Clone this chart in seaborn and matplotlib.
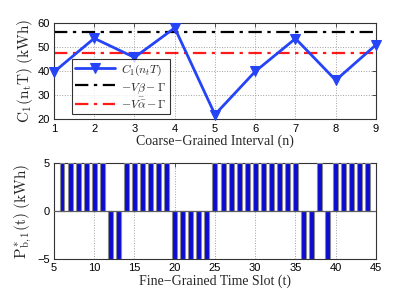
import matplotlib
matplotlib.use("Agg")
import matplotlib.pyplot as plt
import seaborn as sns
import numpy as np
import pandas as pd

# ---- data ----
intervals = [1, 2, 3, 4, 5, 6, 7, 8, 9]
c1_values = [39.6, 53.5, 45.6, 57.8, 22.0, 39.8, 53.4, 36.2, 50.8]
beta_level = 56.3
alpha_level = 47.3

slots = list(range(6, 45))
pb_values = ([5] * 6 + [-5] * 2 + [5] * 6 + [-5] * 5 + [5] * 11 +
             [-5] * 2 + [5] + [-5] + [5] * 5)

top_xticks = [1, 2, 3, 4, 5, 6, 7, 8, 9]
top_yticks = [20, 30, 40, 50, 60]
bot_xticks = [5, 10, 15, 20, 25, 30, 35, 40, 45]
bot_yticks = [-5, 0, 5]

sns.set_style("white")
plt.rcParams['font.family'] = ['Liberation Sans', 'DejaVu Sans']
plt.rcParams['mathtext.fontset'] = 'cm'

fig = plt.figure(figsize=(4.15, 2.97), dpi=100)
ax1 = fig.add_axes([0.130, 0.598, 0.776, 0.326])
ax2 = fig.add_axes([0.130, 0.128, 0.776, 0.323])

blue_line = '#2644f7'
bar_blue = '#0b0bd2'
serif = ['Liberation Serif', 'DejaVu Serif']

# ---- top ----
df1 = pd.DataFrame({'n': intervals, 'C': c1_values})
sns.lineplot(data=df1, x='n', y='C', ax=ax1, color=blue_line, lw=2,
             marker='v', markersize=7, markeredgecolor=blue_line,
             label=r'$C_1(n_tT)$')
ax1.lines[0].set_clip_on(False)
ax1.lines[0].set_zorder(5)
ax1.axhline(beta_level, color='black', ls=(0, (6, 2.5, 1.5, 2.5)), lw=1.6,
            label=r'$-V\underset{-}{\beta}-\Gamma$')
ax1.axhline(alpha_level, color='#ff1a1a', ls=(0, (6, 2.5, 1.5, 2.5)), lw=1.6,
            label=r'$-V\bar{\alpha}-\Gamma$')
ax1.set_xlim(1, 9)
ax1.set_ylim(20, 60)
ax1.set_xticks(top_xticks)
ax1.set_yticks(top_yticks)
ax1.grid(True, ls=':', color='#a0a0a0', lw=0.7)
ax1.set_xlabel('Coarse\u2212Grained Interval (n)', family=serif, fontsize=10, labelpad=1)
ax1.set_ylabel(r'$\mathrm{C_1(n_tT)\ (kWh)}$', fontsize=11, labelpad=2)
leg = ax1.legend(loc='lower left', bbox_to_anchor=(0.056, 0.055), fontsize=8.5,
                 frameon=True, fancybox=False, edgecolor='black',
                 handlelength=3.4, borderpad=0.25, labelspacing=0.2,
                 handletextpad=0.5, borderaxespad=0)
leg.get_frame().set_linewidth(0.8)
leg.set_zorder(6)

# ---- bottom ----
df2 = pd.DataFrame({'t': slots, 'P': pb_values})
sns.barplot(data=df2, x='t', y='P', ax=ax2, native_scale=True, width=0.62,
            color=bar_blue, saturation=1, edgecolor='#8a8a8a', linewidth=0.8,
            zorder=3)
ax2.axhline(0, color='#606060', lw=0.9, zorder=4)
ax2.set_xlim(5, 45)
ax2.set_ylim(-5, 5)
ax2.set_xticks(bot_xticks)
ax2.set_yticks(bot_yticks)
ax2.set_yticklabels(['\u22125', '0', '5'])
ax2.grid(True, ls=':', color='#a0a0a0', lw=0.7, zorder=0)
ax2.set_axisbelow(True)
ax2.set_xlabel('Fine\u2212Grained Time Slot (t)', family=serif, fontsize=10, labelpad=1)
ax2.set_ylabel(r'$\mathrm{P^*_{b,1}(t)\ (kWh)}$', fontsize=11, labelpad=2)

for ax in (ax1, ax2):
    for s in ax.spines.values():
        s.set_color('#333333')
        s.set_linewidth(0.8)
    ax.tick_params(direction='in', length=3, width=0.6, labelsize=8,
                   colors='#333333', pad=3, top=True, right=True)
    for lab in ax.get_xticklabels() + ax.get_yticklabels():
        lab.set_color('black')

fig.savefig('out.png', dpi=100)
